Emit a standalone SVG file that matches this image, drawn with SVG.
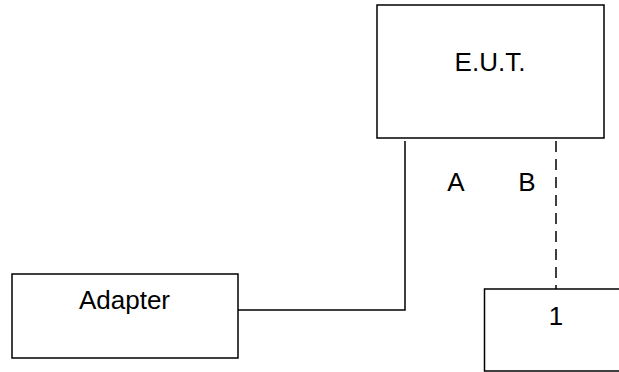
<svg xmlns="http://www.w3.org/2000/svg" width="619" height="372" viewBox="0 0 619 372">
<style>
.box{fill:#fff;stroke:#000;stroke-width:1.5}
.lbl{font-family:"Liberation Sans",Arial,sans-serif;font-size:26px;fill:#000;text-anchor:middle}
.wire{fill:none;stroke:#000;stroke-width:1.5}
.dash{fill:none;stroke:#000;stroke-width:1.5;stroke-dasharray:11,7}
</style>
<rect width="619" height="372" fill="#fff"/>
<g id="connectors">
<polyline class="wire" points="236,310 405,310 405,141"/>
<line class="dash" x1="556" y1="141" x2="556" y2="289"/>
</g>
<g id="eut">
<rect class="box" x="377" y="5" width="227" height="133"/>
<text class="lbl" x="490" y="71">E.U.T.</text>
</g>
<g id="adapter">
<rect class="box" x="12" y="274" width="226" height="84"/>
<text class="lbl" x="124.5" y="309">Adapter</text>
</g>
<g id="node1">
<rect class="box" x="484.5" y="289" width="140" height="82"/>
<text class="lbl" x="556" y="325">1</text>
</g>
<g id="labels">
<text class="lbl" x="456" y="191">A</text>
<text class="lbl" x="527" y="191">B</text>
</g>
</svg>
